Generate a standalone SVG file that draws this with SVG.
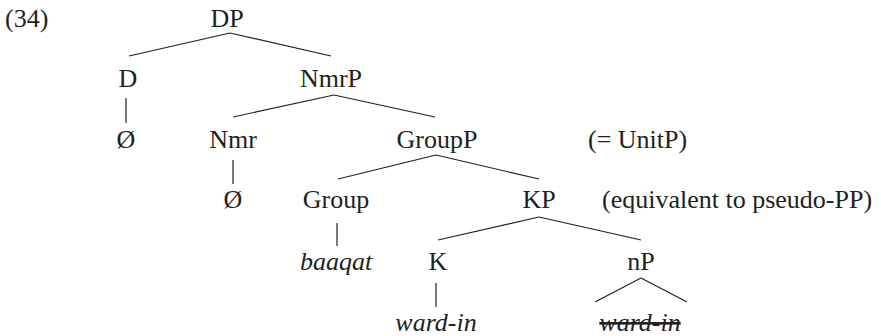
<svg xmlns="http://www.w3.org/2000/svg" width="881" height="336" viewBox="0 0 881 336">
  <style>
    text { font-family: 'Liberation Serif', 'DejaVu Serif', serif; font-size: 26px; fill: #231f20; }
    .c { text-anchor: middle; }
    .it { font-style: italic; }
    .del { text-decoration: line-through; }
    #connectors line { stroke: #231f20; stroke-width: 1.2; fill: none; }
  </style>
  <rect width="881" height="336" fill="#ffffff"/>

  <!-- example number -->
  <text x="5" y="27">(34)</text>

  <g id="connectors">
    <!-- DP -->
    <line x1="230" y1="33" x2="129" y2="56"/>
    <line x1="230" y1="33" x2="331" y2="56"/>
    <!-- D -->
    <line x1="126" y1="98" x2="126" y2="123"/>
    <!-- NmrP -->
    <line x1="334" y1="95" x2="233" y2="117"/>
    <line x1="334" y1="95" x2="435" y2="117"/>
    <!-- Nmr -->
    <line x1="233" y1="160" x2="233" y2="184"/>
    <!-- GroupP -->
    <line x1="436" y1="155" x2="338" y2="179"/>
    <line x1="436" y1="155" x2="539" y2="179"/>
    <!-- Group -->
    <line x1="337" y1="223" x2="337" y2="246"/>
    <!-- KP -->
    <line x1="539" y1="217" x2="438" y2="240"/>
    <line x1="539" y1="217" x2="641" y2="240"/>
    <!-- K -->
    <line x1="436" y1="283" x2="436" y2="307"/>
    <!-- nP (triangle) -->
    <line x1="641" y1="278" x2="595" y2="302"/>
    <line x1="641" y1="278" x2="687" y2="302"/>
  </g>

  <g id="node-DP"><text class="c" x="227" y="27">DP</text></g>
  <g id="node-D"><text class="c" x="128" y="87">D</text></g>
  <g id="node-D-null"><text class="c" x="126" y="148">Ø</text></g>
  <g id="node-NmrP"><text class="c" x="331" y="87">NmrP</text></g>
  <g id="node-Nmr"><text class="c" x="233" y="148">Nmr</text></g>
  <g id="node-Nmr-null"><text class="c" x="233" y="208">Ø</text></g>
  <g id="node-GroupP"><text class="c" x="437" y="148">GroupP</text></g>
  <g id="note-UnitP"><text x="588" y="148">(= UnitP)</text></g>
  <g id="node-Group"><text class="c" x="336" y="208">Group</text></g>
  <g id="node-baaqat"><text class="c it" x="336" y="270">baaqat</text></g>
  <g id="node-KP"><text class="c" x="539" y="208">KP</text></g>
  <g id="note-pseudoPP"><text x="602" y="208">(equivalent to pseudo-PP)</text></g>
  <g id="node-K"><text class="c" x="438" y="270">K</text></g>
  <g id="node-ward-in"><text class="c it" x="436" y="331">ward-in</text></g>
  <g id="node-nP"><text class="c" x="641" y="270">nP</text></g>
  <g id="node-ward-in-copy"><text class="c it del" x="640" y="331">ward-in</text></g>
</svg>
